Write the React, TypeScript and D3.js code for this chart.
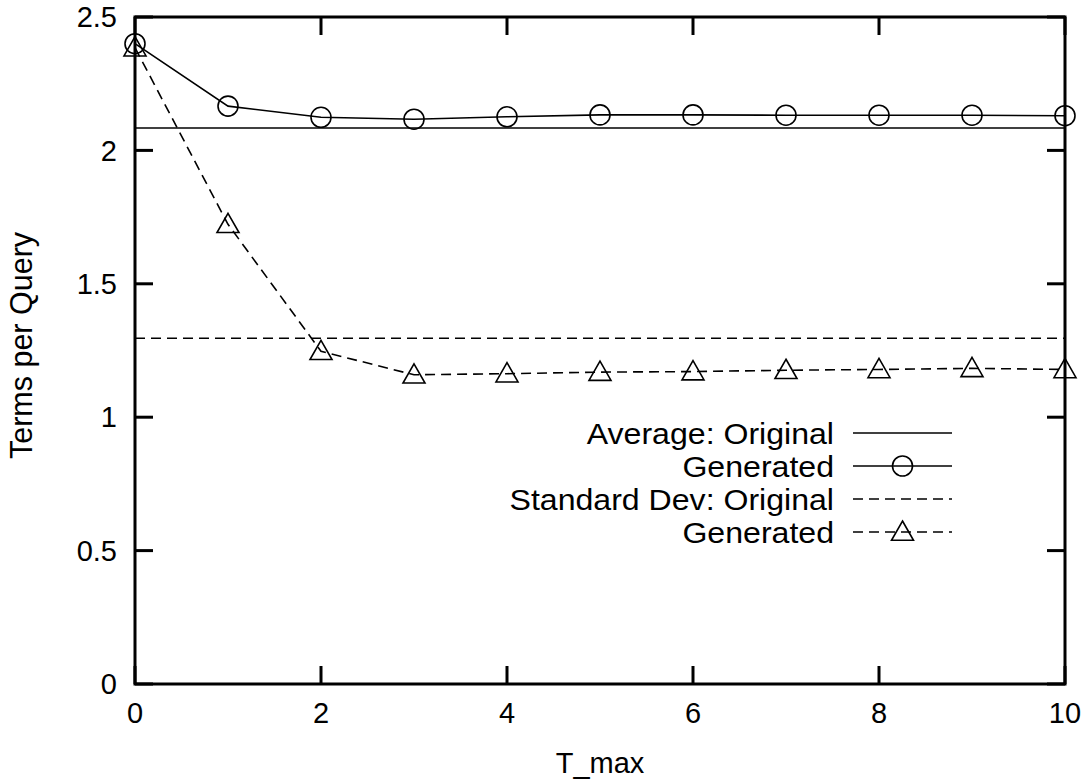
import React from "react";
import * as d3 from "d3";

// T_max settings along the x axis
const tmax = [0, 1, 2, 3, 4, 5, 6, 7, 8, 9, 10];
// Average terms per query of generated queries
const avgGenerated = [2.40, 2.166, 2.124, 2.117, 2.126, 2.133, 2.133, 2.132, 2.132, 2.132, 2.13];
// Standard deviation of terms per query of generated queries
const stdGenerated = [2.385, 1.723, 1.247, 1.159, 1.163, 1.169, 1.171, 1.176, 1.179, 1.183, 1.179];
// Reference values from the original query log
const avgOriginal = 2.084;
const stdOriginal = 1.296;

const xTicks = [0, 2, 4, 6, 8, 10];
const yTicks = [0, 0.5, 1, 1.5, 2, 2.5];
const xTopTicks = [0, 2, 4, 6, 8, 10];

const legendLabels = ["Average: Original", "Generated", "Standard Dev: Original", "Generated"];

const W = 1086;
const H = 783;
const M = { left: 135, right: 1065, top: 17, bottom: 684 };
const FONT = "'Liberation Sans', Arial, Helvetica, sans-serif";
const FS = 29;

export default function App() {
  const x = d3.scaleLinear().domain([0, 10]).range([M.left, M.right]);
  const y = d3.scaleLinear().domain([0, 2.5]).range([M.bottom, M.top]);

  const line = d3
    .line<number>()
    .x((_, i) => x(tmax[i]))
    .y((d) => y(d));

  const dash = "10,6";
  const tickLen = 18;
  const circleR = 10;
  const tri = (cx: number, cy: number, s = 11) =>
    `M${cx},${cy - s} L${cx + s},${cy + s * 0.75} L${cx - s},${cy + s * 0.75} Z`;

  const legendX1 = 853;
  const legendX2 = 952;
  const legendTextX = 834;
  const legendY0 = 433;
  const legendDy = 33;
  const legendStretch = 1.07;

  return (
    <svg
      width={W}
      height={H}
      style={{ position: "absolute", left: 0, top: 0, background: "#fff" }}
      fontFamily={FONT}
    >
      <rect x={0} y={0} width={W} height={H} fill="#fff" />

      {/* reference lines */}
      <line x1={x(0)} x2={x(10)} y1={y(avgOriginal)} y2={y(avgOriginal)} stroke="#000" strokeWidth={1.6} />
      <line
        x1={x(0)}
        x2={x(10)}
        y1={y(stdOriginal)}
        y2={y(stdOriginal)}
        stroke="#000"
        strokeWidth={1.6}
        strokeDasharray={dash}
      />

      {/* generated series */}
      <path d={line(avgGenerated) || ""} fill="none" stroke="#000" strokeWidth={1.6} />
      <path d={line(stdGenerated) || ""} fill="none" stroke="#000" strokeWidth={1.6} strokeDasharray={dash} />
      {avgGenerated.map((v, i) => (
        <circle key={`c${i}`} cx={x(tmax[i])} cy={y(v)} r={circleR} fill="none" stroke="#000" strokeWidth={1.6} />
      ))}
      {stdGenerated.map((v, i) => (
        <path key={`t${i}`} d={tri(x(tmax[i]), y(v))} fill="none" stroke="#000" strokeWidth={1.6} />
      ))}

      {/* frame */}
      <rect
        x={M.left}
        y={M.top}
        width={M.right - M.left}
        height={M.bottom - M.top}
        fill="none"
        stroke="#000"
        strokeWidth={3}
      />

      {/* y ticks */}
      {yTicks.map((t) => (
        <g key={`y${t}`}>
          <line x1={M.left} x2={M.left + tickLen} y1={y(t)} y2={y(t)} stroke="#000" strokeWidth={3} />
          <line x1={M.right} x2={M.right - tickLen} y1={y(t)} y2={y(t)} stroke="#000" strokeWidth={3} />
          <text x={M.left - 18} y={y(t)} dy="0.35em" textAnchor="end" fontSize={FS}>
            {t}
          </text>
        </g>
      ))}

      {/* x ticks */}
      {xTicks.map((t) => (
        <g key={`x${t}`}>
          <line x1={x(t)} x2={x(t)} y1={M.bottom} y2={M.bottom - tickLen} stroke="#000" strokeWidth={3} />
          <text x={x(t)} y={M.bottom + 29} dy="0.35em" textAnchor="middle" fontSize={FS}>
            {t}
          </text>
        </g>
      ))}
      {xTopTicks.map((t) => (
        <line key={`xt${t}`} x1={x(t)} x2={x(t)} y1={M.top} y2={M.top + tickLen} stroke="#000" strokeWidth={3} />
      ))}

      {/* axis titles */}
      <text x={(M.left + M.right) / 2} y={763} dy="0.35em" textAnchor="middle" fontSize={FS}>
        T_max
      </text>
      <text
        transform={`translate(21,${(M.top + M.bottom) / 2 - 5}) rotate(-90)`}
        dy="0.35em"
        textAnchor="middle"
        fontSize={30.5}
      >
        Terms per Query
      </text>

      {/* legend */}
      {legendLabels.map((lab, i) => {
        const ly = legendY0 + i * legendDy;
        const dashed = i >= 2;
        const midX = (legendX1 + legendX2) / 2;
        return (
          <g key={`lg${i}`}>
            <text
              transform={`translate(${legendTextX},${ly}) scale(${legendStretch},1)`}
              dy="0.35em"
              textAnchor="end"
              fontSize={30}
            >
              {lab}
            </text>
            <line
              x1={legendX1}
              x2={legendX2}
              y1={ly}
              y2={ly}
              stroke="#000"
              strokeWidth={1.6}
              strokeDasharray={dashed ? dash : undefined}
            />
            {i === 1 && <circle cx={midX} cy={ly} r={circleR} fill="none" stroke="#000" strokeWidth={1.6} />}
            {i === 3 && <path d={tri(midX, ly)} fill="none" stroke="#000" strokeWidth={1.6} />}
          </g>
        );
      })}
    </svg>
  );
}
